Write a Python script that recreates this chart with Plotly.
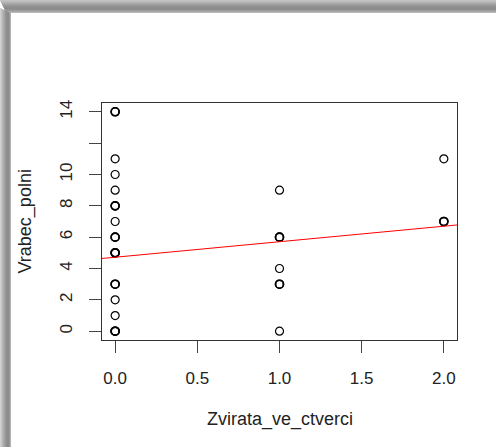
import plotly.graph_objects as go
from collections import Counter

# Data
zvirata = [0, 0, 0, 0, 0, 0, 0, 0, 0, 0, 0, 0, 0, 0, 0, 0, 0, 0, 0, 0,
           1, 1, 1, 1, 1, 1, 1,
           2, 2, 2]
vrabec = [0, 0, 0, 1, 2, 3, 3, 5, 5, 5, 6, 6, 7, 8, 8, 9, 10, 11, 14, 14,
          0, 3, 3, 4, 6, 6, 9,
          7, 7, 11]
fit_intercept = 4.72
fit_slope = 0.99
x_ticks = [0.0, 0.5, 1.0, 1.5, 2.0]
x_tick_labels = ["0.0", "0.5", "1.0", "1.5", "2.0"]
y_ticks = [0, 2, 4, 6, 8, 10, 12, 14]
y_tick_labels = ["0", "2", "4", "6", "8", "10", "", "14"]
x_label = "Zvirata_ve_ctverci"
y_label = "Vrabec_polni"

W, H = 496, 447
ML, MR, MT, MB = 102, 39, 103, 107
PW, PH = W - ML - MR, H - MT - MB
FONT = "Liberation Sans, Arial, Helvetica, sans-serif"

counts = Counter(zip(zvirata, vrabec))
line_w = [1.6 if counts[(a, b)] > 1 else 1.2 for a, b in zip(zvirata, vrabec)]

fig = go.Figure()
fig.add_trace(go.Scatter(
    x=zvirata, y=vrabec, mode="markers",
    marker=dict(symbol="circle-open", size=8, color="black",
                line=dict(color="black", width=line_w)),
    hoverinfo="skip", showlegend=False))

xr = [-0.08, 2.08]
fig.add_trace(go.Scatter(
    x=xr, y=[fit_intercept + fit_slope * v for v in xr], mode="lines",
    line=dict(color="red", width=1), hoverinfo="skip", showlegend=False))


def px_x(p):
    return (p - ML) / PW


def px_y(p):
    return (H - MB - p) / PH


shapes = []
top_cols = [0xc4, 0xbc, 0xb4, 0xaa, 0xa0, 0x98, 0x92, 0x8e, 0x8c, 0x90, 0x9a, 0xa8, 0xb8]
for i, c in enumerate(top_cols):
    shapes.append(dict(type="rect", xref="paper", yref="paper",
                       x0=px_x(i * 0.5), x1=px_x(W), y0=px_y(i + 1), y1=px_y(i),
                       fillcolor="rgb(%d,%d,%d)" % (c, c, c), line=dict(width=0),
                       layer="below"))
left_cols = [0xd0, 0xc4, 0xb8, 0xac, 0xa2, 0x98, 0x90, 0x8c, 0x8c, 0x98, 0xb0]
for i, c in enumerate(left_cols):
    shapes.append(dict(type="rect", xref="paper", yref="paper",
                       x0=px_x(i), x1=px_x(i + 1), y0=px_y(H), y1=px_y(i * 0.5 + 8),
                       fillcolor="rgb(%d,%d,%d)" % (c, c, c), line=dict(width=0),
                       layer="below"))

axis_common = dict(showgrid=False, zeroline=False, showline=True, mirror=True,
                   linecolor="#333333", linewidth=1.2, ticks="outside", ticklen=12,
                   tickwidth=1, tickcolor="#444444",
                   tickfont=dict(family=FONT, size=17, color="#222222"))

fig.update_layout(
    width=W, height=H,
    margin=dict(l=ML, r=MR, t=MT, b=MB, pad=0),
    paper_bgcolor="white", plot_bgcolor="white",
    xaxis=dict(range=[-0.08, 2.08], tickvals=x_ticks, ticktext=x_tick_labels,
               ticklabelstandoff=10, **axis_common),
    yaxis=dict(range=[-0.56, 14.56], tickvals=y_ticks, ticktext=y_tick_labels,
               tickangle=-90, ticklabelstandoff=10, **axis_common),
    shapes=shapes,
    annotations=[
        dict(text=x_label, xref="paper", yref="paper", x=0.5, y=px_y(420),
             xanchor="center", yanchor="middle", showarrow=False,
             font=dict(family=FONT, size=18, color="#222222")),
        dict(text=y_label, xref="paper", yref="paper", x=px_x(25), y=0.5,
             xanchor="center", yanchor="middle", textangle=-90, showarrow=False,
             font=dict(family=FONT, size=18, color="#222222")),
    ],
)

fig.write_html("out.html", config={"displayModeBar": False},
               post_script="document.body.style.margin='0';document.body.style.overflow='hidden';")
